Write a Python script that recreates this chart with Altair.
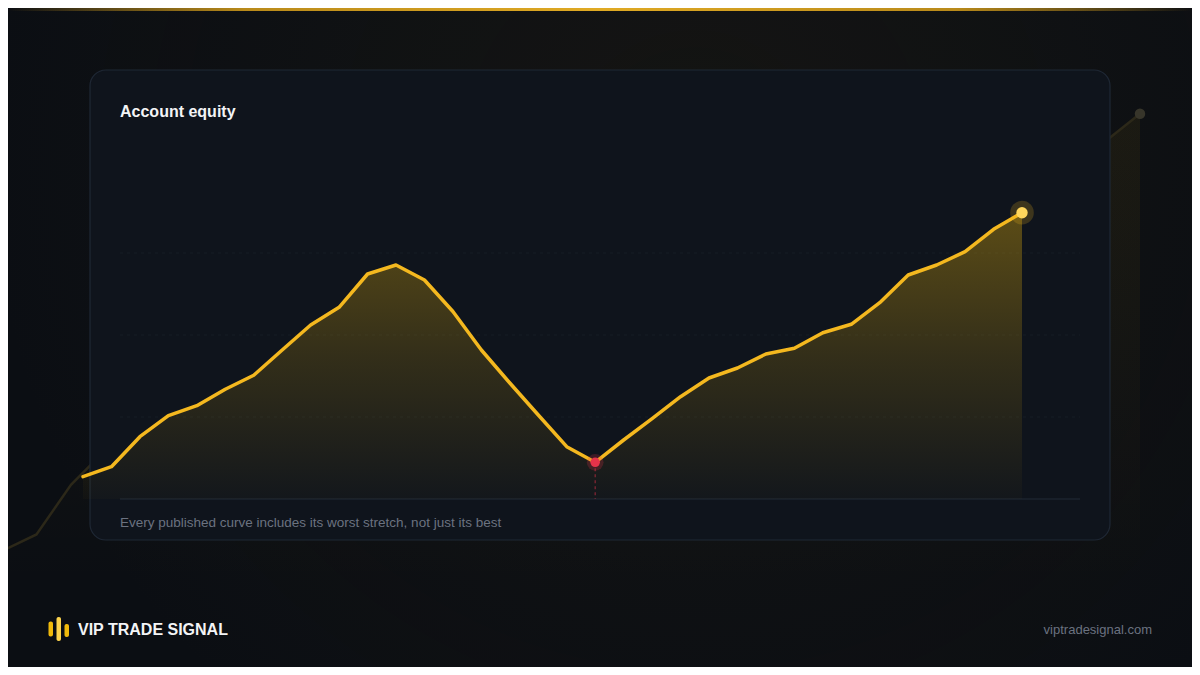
import altair as alt
import pandas as pd

# ---- data ----
steps = list(range(34))
equity = [22.3, 32.3, 62.3, 83.3, 93.3, 109.7, 123.7, 149.0, 174.0, 191.7,
          225.0, 234.0, 219.0, 187.5, 149.0, 116.0, 84.0, 52.3, 36.7, 59.0,
          80.3, 102.3, 121.0, 131.0, 145.0, 150.7, 166.3, 174.7, 196.3, 224.0,
          234.0, 247.3, 269.7, 286.3]
grid_levels = [82, 164, 246]

title_text = "Account equity"
caption_text = "Every published curve includes its worst stretch, not just its best"
brand_text = "VIP TRADE SIGNAL"
site_text = "viptradesignal.com"

W, H = 1184, 659
GOLD = "#f4b81f"
RED = "#e8334a"
FONT = "Liberation Sans"

df = pd.DataFrame({"step": steps, "equity": equity})
# deepest drawdown point (largest fall from the running peak)
drawdown = df["equity"].cummax() - df["equity"]
low_i = int(drawdown.idxmax())
low_df = df.iloc[[low_i]]
end_df = df.iloc[[len(df) - 1]]
grid_df = pd.DataFrame({"level": grid_levels})
one = pd.DataFrame({"k": [0]})

# main scales (plot area inside the card)
xs = alt.Scale(domain=[0, 33], range=[75, 1014])
ys = alt.Scale(domain=[0, 300], range=[491, 191])
# backdrop scales (large faded copy behind the card)
bxs = alt.Scale(domain=[0, 33], range=[-6, 1132])
bys = alt.Scale(domain=[0, 300], range=[580, 83])

X = lambda s: alt.X("step:Q", scale=s, axis=None)
Y = lambda s: alt.Y("equity:Q", scale=s, axis=None)

# ---- background ----
bg_glow = alt.Chart(one).mark_rect(
    fill=alt.RadialGradient(
        gradient="radial", x1=0.58, y1=0.35, x2=0.58, y2=0.35, r1=0, r2=0.6,
        stops=[alt.GradientStop(color="rgba(70,56,18,0.16)", offset=0),
               alt.GradientStop(color="rgba(70,56,18,0.0)", offset=1)])
).encode(x=alt.value(0), x2=alt.value(W), y=alt.value(0), y2=alt.value(H))

top_bar = alt.Chart(one).mark_rect(
    fill=alt.LinearGradient(
        gradient="linear", x1=0, x2=1, y1=0, y2=0,
        stops=[alt.GradientStop(color="rgba(214,160,28,0)", offset=0),
               alt.GradientStop(color="#b98a1a", offset=0.2),
               alt.GradientStop(color="#e0aa24", offset=0.5),
               alt.GradientStop(color="#b98a1a", offset=0.8),
               alt.GradientStop(color="rgba(214,160,28,0)", offset=1)])
).encode(x=alt.value(0), x2=alt.value(W), y=alt.value(0), y2=alt.value(3))

bd_area = alt.Chart(df).mark_area(
    fill=alt.LinearGradient(
        gradient="linear", x1=0, x2=0, y1=0, y2=1,
        stops=[alt.GradientStop(color="rgba(240,185,11,0.06)", offset=0),
               alt.GradientStop(color="rgba(240,185,11,0.0)", offset=1)])
).encode(x=X(bxs), y=Y(bys), y2=alt.value(H))
bd_line = alt.Chart(df).mark_line(color="#2c2819", strokeWidth=2.5).encode(x=X(bxs), y=Y(bys))
bd_dot = alt.Chart(end_df).mark_point(filled=True, color="#37352a", size=110, opacity=1).encode(x=X(bxs), y=Y(bys))

# ---- card ----
card = alt.Chart(one).mark_rect(
    fill="#0f141c", stroke="#1f2835", strokeWidth=1.2, cornerRadius=16
).encode(x=alt.value(82), x2=alt.value(1102), y=alt.value(62), y2=alt.value(532))

grid = alt.Chart(grid_df).mark_rule(color="#161c25", strokeDash=[3, 4], strokeWidth=1).encode(
    y=alt.Y("level:Q", scale=ys, axis=None), x=alt.value(112), x2=alt.value(1072))
baseline = alt.Chart(one).mark_rule(color="#222a36", strokeWidth=1).encode(
    y=alt.value(491), x=alt.value(112), x2=alt.value(1072))

area = alt.Chart(df).mark_area(
    fill=alt.LinearGradient(
        gradient="linear", x1=0, x2=0, y1=0, y2=1,
        stops=[alt.GradientStop(color="rgba(240,185,11,0.34)", offset=0),
               alt.GradientStop(color="rgba(240,185,11,0.16)", offset=0.5),
               alt.GradientStop(color="rgba(240,185,11,0.02)", offset=1)])
).encode(x=X(xs), y=Y(ys), y2=alt.datum(0))
line = alt.Chart(df).mark_line(color=GOLD, strokeWidth=3.5, strokeJoin="round", strokeCap="round").encode(
    x=X(xs), y=Y(ys))

low_rule = alt.Chart(low_df).mark_rule(color=RED, opacity=0.55, strokeDash=[3, 3], strokeWidth=1.2).encode(
    x=X(xs), y=Y(ys), y2=alt.datum(0))
low_halo = alt.Chart(low_df).mark_point(filled=True, color=RED, size=280, opacity=0.22).encode(x=X(xs), y=Y(ys))
low_dot = alt.Chart(low_df).mark_point(filled=True, color=RED, size=90, opacity=1).encode(x=X(xs), y=Y(ys))
end_halo = alt.Chart(end_df).mark_point(filled=True, color=GOLD, size=560, opacity=0.2).encode(x=X(xs), y=Y(ys))
end_dot = alt.Chart(end_df).mark_point(filled=True, color="#ffd65c", size=130, opacity=1).encode(x=X(xs), y=Y(ys))

# ---- texts ----
def txt(s, x, y, size, color, weight="normal", align="left"):
    return alt.Chart(one).mark_text(
        font=FONT, fontSize=size, fontWeight=weight, color=color, align=align, baseline="middle"
    ).encode(x=alt.value(x), y=alt.value(y), text=alt.value(s))

title = txt(title_text, 112, 104, 16, "#f3f4f6", "bold")
caption = txt(caption_text, 112, 515, 13.5, "#6b7280")
brand = txt(brand_text, 70, 622, 16, "#f3f4f6", "bold")
site = txt(site_text, 1144, 622, 13, "#6b7280", align="right")

def logo_bar(x1, x2, y1, y2, color):
    return alt.Chart(one).mark_rect(fill=color, cornerRadius=2).encode(
        x=alt.value(x1), x2=alt.value(x2), y=alt.value(y1), y2=alt.value(y2))

logo = [logo_bar(40.5, 45, 613.5, 628.5, "#f0b90b"),
        logo_bar(48.5, 53, 609, 633, "#fcd34d"),
        logo_bar(56.5, 61, 616, 629, "#f0b90b")]

chart = alt.layer(
    bg_glow, top_bar, bd_area, bd_line, bd_dot, card, grid, baseline, area, line,
    low_rule, low_halo, low_dot, end_halo, end_dot, title, caption, brand, site, *logo
).resolve_scale(x="independent", y="independent").properties(
    width=W, height=H, padding=0, background="#0b0e13",
    autosize=alt.AutoSizeParams(type="none")
).configure_view(stroke=None)

chart.save("out.html", embed_options={"renderer": "svg", "actions": False})
